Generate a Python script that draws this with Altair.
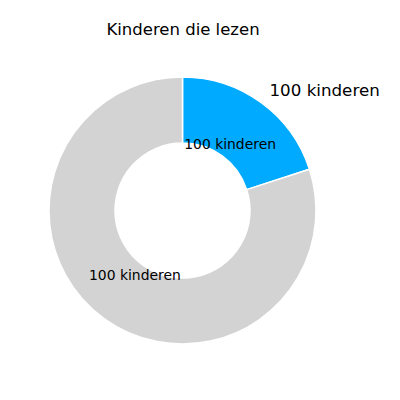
import altair as alt
import pandas as pd

categories = ["lezen", "niet lezen"]
values = [20, 80]
inner_labels = ["100 kinderen", "100 kinderen"]
outer_labels = ["100 kinderen", ""]
colors = ["#00AAFF", "#D3D3D3"]

df = pd.DataFrame({
    "categorie": categories,
    "waarde": values,
    "label_in": inner_labels,
    "label_uit": outer_labels,
    "volgorde": [0, 1],
})

CX, CY = 174.5, 162.5
FONT = "DejaVu Sans"

base = alt.Chart(df).encode(
    theta=alt.Theta("waarde:Q", stack=True),
    order=alt.Order("volgorde:Q"),
)

arc = base.mark_arc(
    outerRadius=133.5, innerRadius=67.5, stroke="white", strokeWidth=1.5,
    x=CX, y=CY,
).encode(
    color=alt.Color("categorie:N", scale=alt.Scale(domain=categories, range=colors), legend=None),
)

txt_in = base.mark_text(
    radius=81, fontSize=13.9, font=FONT, color="black", align="center", baseline="middle",
    x=CX, y=CY,
).encode(text="label_in:N")

txt_out = base.mark_text(
    radius=148, fontSize=16.7, font=FONT, color="black", align="left", baseline="middle",
    x=CX, y=CY,
).encode(text="label_uit:N")

chart = alt.layer(arc, txt_in, txt_out).properties(
    width=384,
    height=344,
    autosize=alt.AutoSizeParams(type="none"),
    padding={"top": 40, "left": 0, "right": 0, "bottom": 0},
    title=alt.TitleParams(
        "Kinderen die lezen", font=FONT, fontSize=16.5, fontWeight="normal",
        color="black", anchor="middle", dx=-17, offset=10,
    ),
).configure_view(stroke=None)

chart.save("out.html", embed_options={"renderer": "svg", "actions": False})
